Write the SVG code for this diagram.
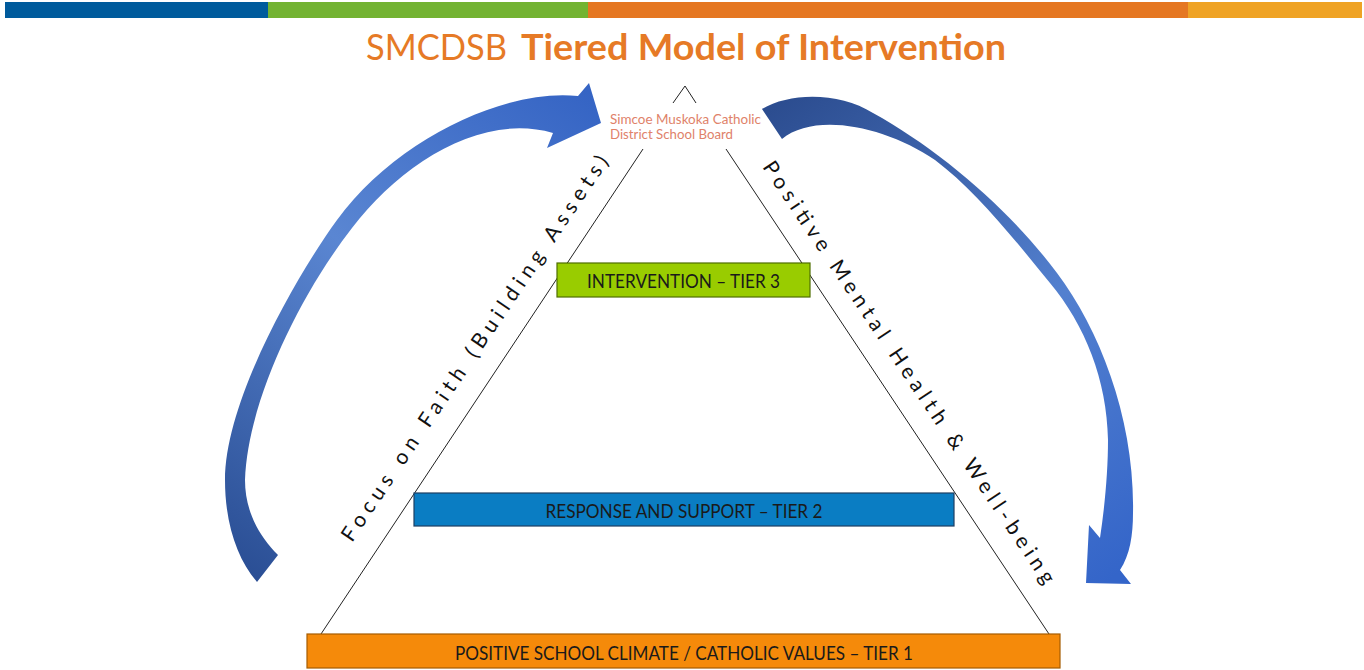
<svg xmlns="http://www.w3.org/2000/svg" width="1364" height="670" viewBox="0 0 1364 670">
<defs>
<style>
.title{font-family:Lato,"Open Sans","Liberation Sans",sans-serif;font-size:36px;fill:#e67a26}
.sub{font-family:Lato,"Open Sans","Liberation Sans",sans-serif;font-size:12.5px;fill:#e0826a}
.box{stroke-width:1.2}
.lbl{font-family:Lato,"Open Sans","Liberation Sans",sans-serif;font-size:18.5px;fill:#1a1a1a;text-anchor:middle}
.side{font-family:Lato,"Open Sans","Liberation Sans",sans-serif;font-size:21px;fill:#111}
.tri{stroke:#222;stroke-width:1;fill:none}
</style>
<linearGradient id="gL" gradientUnits="userSpaceOnUse" x1="250" y1="580" x2="600" y2="100">
<stop offset="0" stop-color="#2a4e94"/>
<stop offset="0.55" stop-color="#5a86d2"/>
<stop offset="1" stop-color="#3564c4"/>
</linearGradient>
<linearGradient id="gR" gradientUnits="userSpaceOnUse" x1="770" y1="110" x2="1110" y2="580">
<stop offset="0" stop-color="#2c4d90"/>
<stop offset="0.55" stop-color="#5380cf"/>
<stop offset="1" stop-color="#3465c9"/>
</linearGradient>
</defs>
<rect width="1364" height="670" fill="#ffffff"/>
<g id="top-bar">
<rect x="5" y="2" width="263" height="16" fill="#005b9c"/>
<rect x="268" y="2" width="320" height="16" fill="#73b332"/>
<rect x="588" y="2" width="600" height="16" fill="#e57722"/>
<rect x="1188" y="2" width="174" height="16" fill="#efa325"/>
</g>
<g id="title">
<text class="title" x="366" y="60" textLength="141" lengthAdjust="spacingAndGlyphs">SMCDSB</text>
<text class="title" x="521" y="60" font-weight="bold" textLength="485" lengthAdjust="spacingAndGlyphs">Tiered Model of Intervention</text>
</g>
<g id="board">
<polyline class="tri" points="673,103 685,86 696,103"/>
<text class="sub" x="610" y="124" textLength="151" lengthAdjust="spacingAndGlyphs">Simcoe Muskoka Catholic</text>
<text class="sub" x="610" y="139" textLength="123" lengthAdjust="spacingAndGlyphs">District School Board</text>
</g>
<g id="triangle">
<line class="tri" x1="643" y1="149" x2="321" y2="634"/>
<line class="tri" x1="726" y1="149" x2="1049" y2="634"/>
</g>
<g id="connectors">
<path id="arrow-left" fill="url(#gL)" d="M578,96 C505,88 395,140 337,220 C297,275 225,400 225,480 C225,525 238,560 257,582 L278,555 C258,535 245,510 245,480 C248,400 300,295 352,228 C400,165 480,112 553,133 L547,148 L601,123 L589,83 Z"/>
<path id="arrow-right" fill="url(#gR)" d="M762,109 C790,92 840,92 873,113 C940,150 1010,210 1057,273 C1100,330 1135,420 1133,513 C1133,535 1130,555 1120,570 L1131,584 L1086,583 L1089,525 L1100,538 C1105,505 1108,470 1108,440 C1107,380 1085,325 1050,283 C1015,240 975,190 935,160 C885,126 815,112 782,139 Z"/>
</g>
<g id="side-left">
<text class="side" transform="translate(352,543) rotate(-56)" x="0" y="0" textLength="460" lengthAdjust="spacing">Focus on Faith (Building Assets)</text>
</g>
<g id="side-right">
<text class="side" transform="translate(762,167) rotate(56)" x="0" y="0" textLength="505" lengthAdjust="spacing">Positive Mental Health &amp; Well-being</text>
</g>
<g id="tier3">
<rect class="box" x="557" y="263" width="253" height="34" fill="#99cc00" stroke="#4f6e00"/>
<text class="lbl" x="683.5" y="288" textLength="193" lengthAdjust="spacingAndGlyphs">INTERVENTION – TIER 3</text>
</g>
<g id="tier2">
<rect class="box" x="414" y="493" width="540" height="33" fill="#0a7dc3" stroke="#1d3f63"/>
<text class="lbl" x="684" y="518" textLength="277" lengthAdjust="spacingAndGlyphs">RESPONSE AND SUPPORT – TIER 2</text>
</g>
<g id="tier1">
<rect class="box" x="307" y="634" width="753" height="34" fill="#f58a0a" stroke="#a65c00"/>
<text class="lbl" x="684" y="660" textLength="458" lengthAdjust="spacingAndGlyphs">POSITIVE SCHOOL CLIMATE / CATHOLIC VALUES – TIER 1</text>
</g>
</svg>
